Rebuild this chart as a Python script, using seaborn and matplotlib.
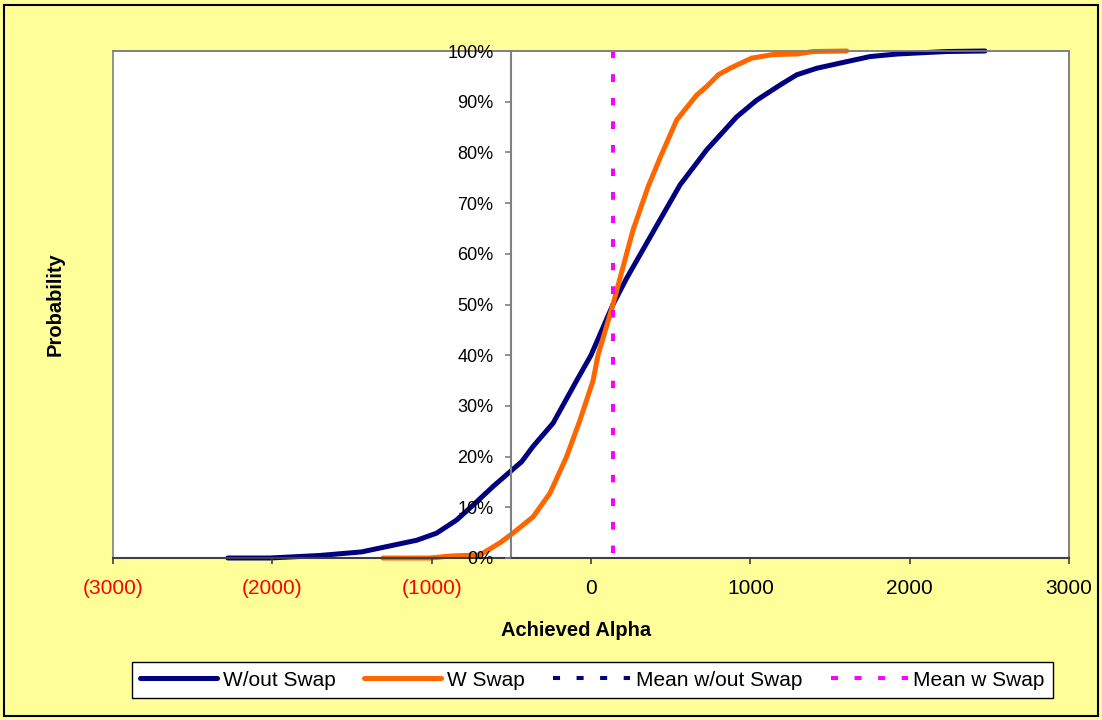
import matplotlib
matplotlib.use("Agg")
import matplotlib.pyplot as plt
from matplotlib.patches import Rectangle
import seaborn as sns
import pandas as pd

# Cumulative probability of achieved alpha, without and with the swap
alpha_without_swap = [-2279, -2015, -1701, -1440, -1094, -969, -843, -741, -615, -435, -364,
                      -238, -90, 0, 138, 224, 433, 559, 726, 914, 1040, 1187, 1291, 1417,
                      1605, 1751, 1919, 2233, 2473]
prob_without_swap = [0.0, 0.0, 0.005, 0.012, 0.035, 0.049, 0.075, 0.104, 0.141, 0.19, 0.22,
                     0.266, 0.35, 0.40, 0.50, 0.552, 0.667, 0.736, 0.805, 0.87, 0.903, 0.933,
                     0.953, 0.966, 0.979, 0.989, 0.994, 0.999, 1.0]

alpha_with_swap = [-1306, -1011, -880, -697, -571, -490, -364, -257, -153, -69, 13, 44, 138,
                   182, 264, 358, 433, 538, 663, 726, 799, 873, 1009, 1143, 1291, 1396, 1605]
prob_with_swap = [0.0, 0.0, 0.004, 0.006, 0.03, 0.049, 0.081, 0.128, 0.20, 0.272, 0.35, 0.40,
                  0.50, 0.552, 0.647, 0.732, 0.789, 0.864, 0.913, 0.93, 0.953, 0.966, 0.986,
                  0.993, 0.994, 0.999, 1.0]

mean_without_swap = 140
mean_with_swap = 140

series_names = ["W/out Swap", "W Swap", "Mean w/out Swap", "Mean w Swap"]

x_ticks = [-3000, -2000, -1000, 0, 1000, 2000, 3000]
x_tick_labels = ["(3000)", "(2000)", "(1000)", "0", "1000", "2000", "3000"]
y_ticks = [0.0, 0.1, 0.2, 0.3, 0.4, 0.5, 0.6, 0.7, 0.8, 0.9, 1.0]
y_tick_labels = ["0%", "10%", "20%", "30%", "40%", "50%", "60%", "70%", "80%", "90%", "100%"]

NAVY = "#000080"
ORANGE = "#FF6600"
MAGENTA = "#FF00FF"
FRAME_GRAY = "#808080"

sns.set_theme(style="white")
plt.rcParams["font.family"] = ["Liberation Sans", "DejaVu Sans"]
plt.rcParams["text.color"] = "black"
plt.rcParams["axes.labelcolor"] = "black"
plt.rcParams["xtick.color"] = "black"
plt.rcParams["ytick.color"] = "black"

W, H = 1102, 720
fig = plt.figure(figsize=(W / 100, H / 100), dpi=100, facecolor="#FFFF99")
ax = fig.add_axes([113 / W, 1 - 558 / H, (1069 - 113) / W, (558 - 51) / H])
ax.set_facecolor("white")

df_without = pd.DataFrame({"alpha": alpha_without_swap, "prob": prob_without_swap})
df_with = pd.DataFrame({"alpha": alpha_with_swap, "prob": prob_with_swap})

sns.lineplot(data=df_without, x="alpha", y="prob", ax=ax, color=NAVY, linewidth=3.6,
             estimator=None, sort=False, label=series_names[0],
             solid_capstyle="round", clip_on=False)
sns.lineplot(data=df_with, x="alpha", y="prob", ax=ax, color=ORANGE, linewidth=3.6,
             estimator=None, sort=False, label=series_names[1],
             solid_capstyle="round", clip_on=False)

# Square-dot mean markers, dash pattern running from the top of the plot downward
dot_style = (0, (1.75, 4.1))
mean_wo = ax.axvline(mean_without_swap, ymin=1, ymax=0, color=NAVY, linewidth=2.9,
                     linestyle=dot_style, dash_capstyle="butt", label=series_names[2],
                     clip_on=False)
mean_w = ax.axvline(mean_with_swap, ymin=1, ymax=0, color=MAGENTA, linewidth=2.9,
                    linestyle=dot_style, dash_capstyle="butt", label=series_names[3],
                    clip_on=False)

ax.set_xlim(-3000, 3000)
ax.set_ylim(0, 1)

ax.set_xticks(x_ticks, labels=x_tick_labels)
ax.set_yticks(y_ticks, labels=y_tick_labels)
for lbl in ax.get_xticklabels():
    lbl.set_color("#FF0000" if lbl.get_text().startswith("(") else "black")

ax.tick_params(axis="x", bottom=True, direction="out", length=4.3, width=1.2,
               color="#404040", pad=11, labelsize=15)
ax.tick_params(axis="y", left=True, direction="out", length=4.3, width=1.2,
               color=FRAME_GRAY, pad=8.6, labelsize=13, labelcolor="black")

# Value axis crosses the category axis at -500
ax.spines["left"].set_position(("data", -500))
ax.spines["left"].set_color(FRAME_GRAY)
ax.spines["left"].set_linewidth(1.5)
for side in ("top", "right"):
    ax.spines[side].set_color(FRAME_GRAY)
    ax.spines[side].set_linewidth(1.2)
ax.spines["bottom"].set_color("#404040")
ax.spines["bottom"].set_linewidth(1.5)
ax.add_patch(Rectangle((0, 0), 1, 1, transform=ax.transAxes, fill=False,
                       edgecolor=FRAME_GRAY, linewidth=1.2, zorder=0.5, clip_on=False))
ax.set_axisbelow(False)

ax.set_xlabel("Achieved Alpha", fontsize=14.5, fontweight="bold", color="black")
ax.xaxis.set_label_coords((576 - 113) / 956, (558 - 630) / 507)
ax.xaxis.label.set_verticalalignment("center")
ax.set_ylabel("Probability", fontsize=14.5, fontweight="bold", color="black")
ax.yaxis.set_label_coords((55 - 113) / 956, (558 - 304) / 507)
ax.yaxis.label.set_verticalalignment("center")
ax.yaxis.label.set_horizontalalignment("center")

handles = ax.get_lines()[:2] + [mean_wo, mean_w]
leg = ax.legend(handles, series_names, ncol=4, loc="center",
                bbox_to_anchor=(132 / W, 1 - 700 / H, (1053 - 132) / W, 40 / H),
                bbox_transform=fig.transFigure, mode="expand", frameon=True,
                fancybox=False, edgecolor="black", framealpha=1, facecolor="white",
                fontsize=15, handlelength=3.7, handletextpad=0.25, borderaxespad=0,
                borderpad=0.4)
leg.get_frame().set_linewidth(1.0)
for t in leg.get_texts():
    t.set_color("black")

fig.add_artist(Rectangle((4 / W, 4 / H), 1094 / W, 711 / H, transform=fig.transFigure,
                         fill=False, edgecolor="black", linewidth=1.5))

fig.savefig("out.png", dpi=100, facecolor=fig.get_facecolor())
